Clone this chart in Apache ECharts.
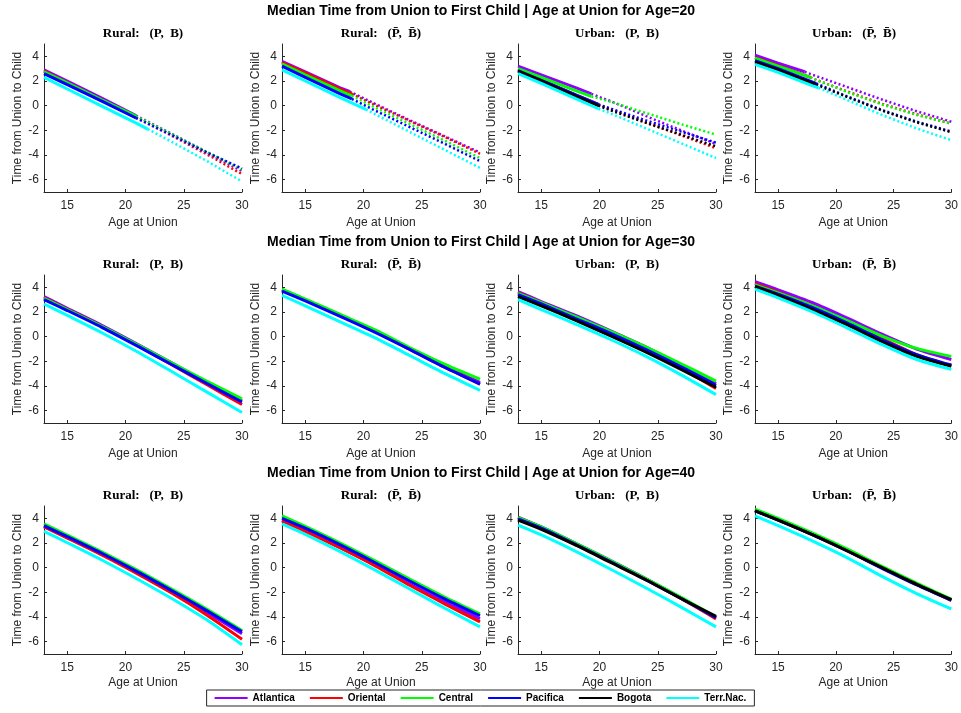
<!DOCTYPE html>
<html>
<head>
<meta charset="utf-8">
<script src="https://cdn.jsdelivr.net/npm/echarts@6/dist/echarts.min.js"></script>
<style>
html, body { margin: 0; padding: 0; background: #fff; }
#chart { width: 961px; height: 713px; }
</style>
</head>
<body>
<div id="chart"></div>
<script>
// shared axes / categories
var ages = [13, 15, 18, 21, 24, 27, 30];
var xTicks = [15, 20, 25, 30];
var yTicks = [-6, -4, -2, 0, 2, 4];
var regions = ['Atlantica', 'Oriental', 'Central', 'Pacifica', 'Bogota', 'Terr.Nac.'];
var colors = ['#8f00ff', '#ff0000', '#00ff00', '#0000ff', '#000000', '#00ffff'];
var rowTitles = [
    'Median Time from Union to First Child | Age at Union for Age=20',
    'Median Time from Union to First Child | Age at Union for Age=30',
    'Median Time from Union to First Child | Age at Union for Age=40'
];
var colTitles = ['Rural:   (P,  B)', 'Rural:   (P\u0304,  B\u0304)', 'Urban:   (P,  B)', 'Urban:   (P\u0304,  B\u0304)'];

// Age=20 (solid up to cut age, dotted after)
var age20RuralPB = [
    [2.9, 2.0, 0.6, -0.85, -2.3, -3.8, -5.3],
    [2.8, 1.85, 0.45, -0.95, -2.45, -3.95, -5.55],
    [2.75, 1.85, 0.45, -0.9, -2.3, -3.75, -5.15],
    [2.6, 1.7, 0.35, -1.0, -2.4, -3.8, -5.1],
    null,
    [2.3, 1.35, -0.05, -1.45, -2.95, -4.5, -6.15]
];
var age20RuralPBCut = [20.9, 20.9, 20.9, 20.9, null, 21.9];
var age20RuralPBCutVal = [-0.8, -0.95, -0.85, -1.0, null, -1.9];

var age20RuralPBbar = [
    [3.6, 2.75, 1.45, 0.15, -1.2, -2.5, -3.8],
    [3.5, 2.65, 1.35, 0.05, -1.25, -2.55, -3.9],
    [3.4, 2.5, 1.2, -0.15, -1.5, -2.85, -4.25],
    [3.2, 2.3, 0.95, -0.4, -1.75, -3.1, -4.5],
    null,
    [2.9, 2.0, 0.65, -0.7, -2.15, -3.6, -5.05]
];
var age20RuralPBbarCut = [18.8, 19, 19, 19, null, 20.2];
var age20RuralPBbarCutVal = [1.15, 0.95, 0.8, 0.55, null, -0.3];

var age20UrbanPB = [
    [3.2, 2.5, 1.45, 0.35, -0.85, -2.0, -3.1],
    [2.95, 2.1, 0.85, -0.3, -1.35, -2.4, -3.45],
    [3.0, 2.3, 1.2, 0.3, -0.6, -1.5, -2.35],
    [2.85, 2.05, 0.85, -0.25, -1.2, -2.1, -3.0],
    [2.8, 2.0, 0.75, -0.4, -1.4, -2.35, -3.3],
    [2.6, 1.8, 0.55, -0.65, -1.85, -3.05, -4.25]
];
var age20UrbanPBCut = [19.3, 19.9, 19.3, 19.9, 19.9, 19.9];
var age20UrbanPBCutVal = [0.95, 0.1, 0.75, 0.1, 0.0, -0.25];

var age20UrbanPBbar = [
    [4.1, 3.45, 2.5, 1.5, 0.5, -0.45, -1.3],
    [3.9, 3.25, 2.2, 1.15, 0.15, -0.7, -1.45],
    [3.85, 3.2, 2.2, 1.1, 0.1, -0.75, -1.45],
    [3.65, 3.0, 1.9, 0.75, -0.35, -1.3, -2.1],
    [3.55, 2.9, 1.8, 0.7, -0.4, -1.35, -2.15],
    [3.35, 2.7, 1.6, 0.45, -0.75, -1.85, -2.8]
];
var age20UrbanPBbarCut = [17.3, 17.8, 17.8, 18.3, 18.3, 18.5];
var age20UrbanPBbarCutVal = [2.75, 2.3, 2.3, 1.8, 1.7, 1.45];

// Age=30
var age30RuralPB = [
    [3.25, 2.3, 0.9, -0.6, -2.15, -3.7, -5.2],
    [3.15, 2.22, 0.82, -0.7, -2.3, -3.9, -5.5],
    [3.1, 2.2, 0.82, -0.65, -2.15, -3.62, -5.05],
    [3.0, 2.12, 0.74, -0.75, -2.28, -3.8, -5.3],
    null,
    [2.65, 1.72, 0.3, -1.22, -2.85, -4.5, -6.15]
];
var age30RuralPBbar = [
    [3.8, 3.0, 1.75, 0.45, -1.0, -2.4, -3.7],
    [3.8, 2.95, 1.7, 0.4, -1.05, -2.5, -3.85],
    [3.85, 3.05, 1.8, 0.55, -0.9, -2.25, -3.45],
    [3.7, 2.9, 1.65, 0.35, -1.05, -2.5, -3.85],
    null,
    [3.35, 2.5, 1.2, -0.1, -1.55, -3.0, -4.35]
];
var age30UrbanPB = [
    [3.65, 2.85, 1.7, 0.45, -0.85, -2.3, -3.8],
    [3.55, 2.75, 1.55, 0.3, -1.05, -2.55, -4.2],
    [3.5, 2.75, 1.6, 0.4, -0.85, -2.2, -3.6],
    [3.4, 2.65, 1.45, 0.25, -1.05, -2.45, -3.95],
    [3.25, 2.5, 1.3, 0.05, -1.25, -2.65, -4.1],
    [3.0, 2.2, 1.0, -0.25, -1.6, -3.1, -4.7]
];
var age30UrbanPBbar = [
    [4.45, 3.8, 2.75, 1.5, 0.2, -1.0, -1.85],
    [4.3, 3.6, 2.5, 1.2, -0.15, -1.45, -2.35],
    [4.2, 3.55, 2.5, 1.3, 0.05, -0.95, -1.6],
    [4.1, 3.45, 2.35, 1.1, -0.25, -1.45, -2.3],
    [4.05, 3.35, 2.2, 0.95, -0.4, -1.6, -2.4],
    [3.85, 3.15, 2.0, 0.7, -0.65, -1.85, -2.65]
];

// Age=40
var age40RuralPB = [
    [3.35, 2.45, 1.07, -0.42, -2.0, -3.65, -5.35],
    [3.3, 2.4, 1.02, -0.48, -2.08, -3.85, -5.8],
    [3.55, 2.65, 1.27, -0.2, -1.76, -3.38, -5.1],
    [3.4, 2.52, 1.15, -0.32, -1.88, -3.5, -5.2],
    null,
    [2.95, 2.02, 0.6, -0.92, -2.52, -4.25, -6.25]
];
var age40RuralPBbar = [
    [3.85, 3.05, 1.65, 0.2, -1.35, -2.8, -4.15],
    [3.8, 2.95, 1.6, 0.15, -1.45, -2.95, -4.4],
    [4.2, 3.35, 2.0, 0.55, -0.95, -2.4, -3.75],
    [4.0, 3.2, 1.85, 0.4, -1.1, -2.55, -3.9],
    null,
    [3.55, 2.7, 1.3, -0.2, -1.75, -3.3, -4.8]
];
var age40UrbanPB = [
    [4.1, 3.3, 1.95, 0.55, -0.9, -2.45, -4.05],
    [4.05, 3.25, 1.9, 0.5, -0.95, -2.5, -4.15],
    [4.05, 3.3, 1.95, 0.55, -0.9, -2.4, -4.0],
    [3.95, 3.2, 1.85, 0.45, -1.0, -2.5, -4.05],
    [3.85, 3.1, 1.8, 0.4, -1.0, -2.5, -3.95],
    [3.45, 2.65, 1.3, -0.15, -1.65, -3.2, -4.8]
];
var age40UrbanPBbar = [
    [4.65, 3.9, 2.7, 1.4, 0.0, -1.35, -2.6],
    [4.65, 3.9, 2.7, 1.4, 0.0, -1.35, -2.65],
    [4.75, 4.0, 2.8, 1.5, 0.1, -1.25, -2.55],
    [4.6, 3.85, 2.65, 1.35, -0.05, -1.4, -2.65],
    [4.6, 3.85, 2.65, 1.35, 0.0, -1.35, -2.6],
    [4.2, 3.4, 2.15, 0.8, -0.7, -2.1, -3.35]
];

var panels = [
    { data: age20RuralPB, cut: age20RuralPBCut, cutVal: age20RuralPBCutVal },
    { data: age20RuralPBbar, cut: age20RuralPBbarCut, cutVal: age20RuralPBbarCutVal },
    { data: age20UrbanPB, cut: age20UrbanPBCut, cutVal: age20UrbanPBCutVal },
    { data: age20UrbanPBbar, cut: age20UrbanPBbarCut, cutVal: age20UrbanPBbarCutVal },
    { data: age30RuralPB }, { data: age30RuralPBbar }, { data: age30UrbanPB }, { data: age30UrbanPBbar },
    { data: age40RuralPB }, { data: age40RuralPBbar }, { data: age40UrbanPB }, { data: age40UrbanPBbar }
];

// layout (px)
var colLeft = [44, 282, 518, 755];
var rowTop = [44, 275, 506];
var plotW = 198, plotH = 148;
var axisColor = '#262626';
var sans = 'Liberation Sans, Arial, sans-serif';

var grids = [], xAxes = [], yAxes = [], series = [], graphics = [];

rowTitles.forEach(function (t, r) {
    graphics.push({
        type: 'text', x: 481, y: rowTop[r] - 33,
        style: { text: t, font: 'bold 14px ' + sans, fill: '#000', textAlign: 'center', textVerticalAlign: 'middle' }
    });
});

panels.forEach(function (p, k) {
    var r = Math.floor(k / 4), c = k % 4;
    grids.push({ left: colLeft[c], top: rowTop[r], width: plotW, height: plotH });
    graphics.push({
        type: 'text', x: colLeft[c] + plotW / 2, y: rowTop[r] - 10,
        style: { text: colTitles[c], font: 'bold 13px Liberation Serif, serif', fill: '#000', textAlign: 'center', textVerticalAlign: 'middle' }
    });
    xAxes.push({
        type: 'value', gridIndex: k, min: 13, max: 30,
        name: 'Age at Union', nameLocation: 'middle', nameGap: r === 2 ? 23 : 25,
        nameTextStyle: { color: axisColor, fontSize: 12, fontFamily: sans },
        axisLine: { onZero: false, lineStyle: { color: axisColor } },
        axisTick: { inside: true, length: 3, customValues: xTicks, lineStyle: { color: axisColor } },
        axisLabel: { customValues: xTicks, color: axisColor, fontSize: 12, fontFamily: sans, margin: 8 },
        splitLine: { show: false }
    });
    yAxes.push({
        type: 'value', gridIndex: k, min: -7, max: 5,
        name: 'Time from Union to Child', nameLocation: 'middle', nameGap: 20,
        nameTextStyle: { color: axisColor, fontSize: 12, fontFamily: sans },
        axisLine: { show: true, onZero: false, lineStyle: { color: axisColor } },
        axisTick: { show: true, inside: true, length: 3, customValues: yTicks, lineStyle: { color: axisColor } },
        axisLabel: { customValues: yTicks, color: axisColor, fontSize: 12, fontFamily: sans, margin: 5 },
        splitLine: { show: false }
    });

    p.data.forEach(function (vals, i) {
        if (!vals) return;
        var pts = ages.map(function (a, j) { return [a, vals[j]]; });
        var base = {
            type: 'line', name: regions[i], xAxisIndex: k, yAxisIndex: k,
            symbol: 'none', showSymbol: false, animation: false,
            itemStyle: { color: colors[i] }
        };
        if (p.cut) {
            var cutPt = [p.cut[i], p.cutVal[i]];
            var solid = pts.filter(function (d) { return d[0] < cutPt[0]; }).concat([cutPt]);
            var dotted = [cutPt].concat(pts.filter(function (d) { return d[0] > cutPt[0]; }));
            series.push(Object.assign({}, base, { data: solid, smooth: false, lineStyle: { color: colors[i], width: 3 } }));
            series.push(Object.assign({}, base, { data: dotted, smooth: false, lineStyle: { color: colors[i], width: 2.5, type: [2, 2.5] } }));
        } else {
            series.push(Object.assign({}, base, { data: pts, smooth: 0.25, lineStyle: { color: colors[i], width: 3 } }));
        }
    });
});

var chart = echarts.init(document.getElementById('chart'));
chart.setOption({
    backgroundColor: '#fff',
    animation: false,
    grid: grids,
    xAxis: xAxes,
    yAxis: yAxes,
    series: series,
    graphic: graphics,
    legend: {
        data: regions,
        icon: 'rect',
        left: 'center',
        top: 690,
        itemWidth: 33,
        itemHeight: 2,
        itemGap: 15,
        padding: [3, 8],
        borderColor: axisColor,
        borderWidth: 1,
        textStyle: { color: '#000', fontSize: 10, fontWeight: 'bold', fontFamily: sans }
    }
});
</script>
</body>
</html>
